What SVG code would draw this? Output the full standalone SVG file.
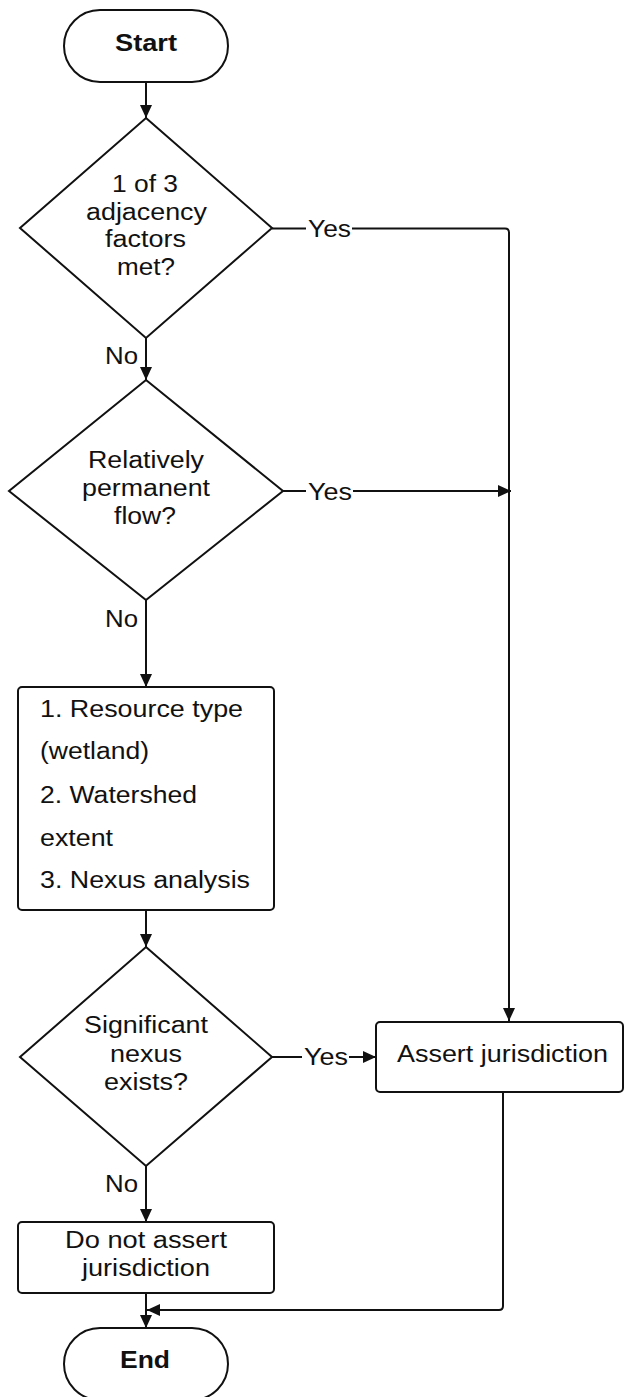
<svg xmlns="http://www.w3.org/2000/svg" width="626" height="1397" viewBox="0 0 626 1397">
<style>
.s{fill:#fff;stroke:#111;stroke-width:2}
.c{fill:none;stroke:#111;stroke-width:2}
text{font-family:"Liberation Sans",Arial,sans-serif;font-size:23px;fill:#111}
.m{text-anchor:middle}
.b{font-weight:bold;font-size:24px}
</style>
<defs>
<marker id="ah" viewBox="0 0 13 12" refX="13" refY="6" markerWidth="13" markerHeight="12" orient="auto" markerUnits="userSpaceOnUse">
<path d="M0,0 L13,6 L0,12 z" fill="#111"/>
</marker>
</defs>
<g id="connectors">
<path class="c" d="M146,82 V118" marker-end="url(#ah)"/>
<path class="c" d="M272,228.5 H306 M352,228.5 H505 Q509,228.5 509,232.5 V1021" marker-end="url(#ah)"/>
<path class="c" d="M146,338 V380" marker-end="url(#ah)"/>
<path class="c" d="M283,491 H306 M353,491 H511" marker-end="url(#ah)"/>
<path class="c" d="M146,600 V687" marker-end="url(#ah)"/>
<path class="c" d="M146,910 V947" marker-end="url(#ah)"/>
<path class="c" d="M272,1057 H302 M349,1057 H376" marker-end="url(#ah)"/>
<path class="c" d="M146,1166 V1222" marker-end="url(#ah)"/>
<path class="c" d="M146,1293 V1328" marker-end="url(#ah)"/>
<path class="c" d="M503,1092 V1306 Q503,1310 499,1310 H147" marker-end="url(#ah)"/>
<text x="308" y="237" textLength="43" lengthAdjust="spacingAndGlyphs">Yes</text>
<text x="308" y="500" textLength="44" lengthAdjust="spacingAndGlyphs">Yes</text>
<text x="304" y="1065" textLength="44" lengthAdjust="spacingAndGlyphs">Yes</text>
<text x="105" y="364" textLength="33" lengthAdjust="spacingAndGlyphs">No</text>
<text x="105" y="627" textLength="33" lengthAdjust="spacingAndGlyphs">No</text>
<text x="105" y="1192" textLength="33" lengthAdjust="spacingAndGlyphs">No</text>
</g>
<g id="start">
<rect class="s" x="64" y="10" width="164" height="72" rx="36" ry="36"/>
<text class="m b" x="146" y="51" textLength="62" lengthAdjust="spacingAndGlyphs">Start</text>
</g>
<g id="adjacency">
<polygon class="s" points="146,118 272,228 146,338 20,228"/>
<text class="m" x="145" y="192" textLength="66" lengthAdjust="spacingAndGlyphs">1 of 3</text>
<text class="m" x="146.5" y="220" textLength="121" lengthAdjust="spacingAndGlyphs">adjacency</text>
<text class="m" x="145.5" y="247" textLength="81" lengthAdjust="spacingAndGlyphs">factors</text>
<text class="m" x="146" y="275" textLength="58" lengthAdjust="spacingAndGlyphs">met?</text>
</g>
<g id="permanent">
<polygon class="s" points="146,380 283,491 146,600 9,491"/>
<text class="m" x="146" y="468" textLength="116" lengthAdjust="spacingAndGlyphs">Relatively</text>
<text class="m" x="146" y="496" textLength="128" lengthAdjust="spacingAndGlyphs">permanent</text>
<text class="m" x="145" y="524" textLength="62" lengthAdjust="spacingAndGlyphs">flow?</text>
</g>
<g id="analysis">
<rect class="s" x="18" y="687" width="256" height="223" rx="4" ry="4"/>
<text x="40" y="717" textLength="203" lengthAdjust="spacingAndGlyphs">1. Resource type</text>
<text x="40" y="759" textLength="109" lengthAdjust="spacingAndGlyphs">(wetland)</text>
<text x="40" y="803" textLength="157" lengthAdjust="spacingAndGlyphs">2. Watershed</text>
<text x="40" y="846" textLength="73" lengthAdjust="spacingAndGlyphs">extent</text>
<text x="40" y="888" textLength="210" lengthAdjust="spacingAndGlyphs">3. Nexus analysis</text>
</g>
<g id="nexus">
<polygon class="s" points="146,947 272,1057 146,1166 20,1057"/>
<text class="m" x="146" y="1033" textLength="124" lengthAdjust="spacingAndGlyphs">Significant</text>
<text class="m" x="146" y="1062" textLength="72" lengthAdjust="spacingAndGlyphs">nexus</text>
<text class="m" x="146" y="1090" textLength="84" lengthAdjust="spacingAndGlyphs">exists?</text>
</g>
<g id="assert">
<rect class="s" x="376" y="1022" width="247" height="70" rx="4" ry="4"/>
<text x="397" y="1062" textLength="211" lengthAdjust="spacingAndGlyphs">Assert jurisdiction</text>
</g>
<g id="notassert">
<rect class="s" x="18" y="1222" width="256" height="71" rx="4" ry="4"/>
<text class="m" x="146" y="1248" textLength="162" lengthAdjust="spacingAndGlyphs">Do not assert</text>
<text class="m" x="146" y="1276" textLength="128" lengthAdjust="spacingAndGlyphs">jurisdiction</text>
</g>
<g id="end">
<rect class="s" x="64" y="1328" width="164" height="72" rx="36" ry="36"/>
<text class="m b" x="145" y="1368" textLength="50" lengthAdjust="spacingAndGlyphs">End</text>
</g>
</svg>
